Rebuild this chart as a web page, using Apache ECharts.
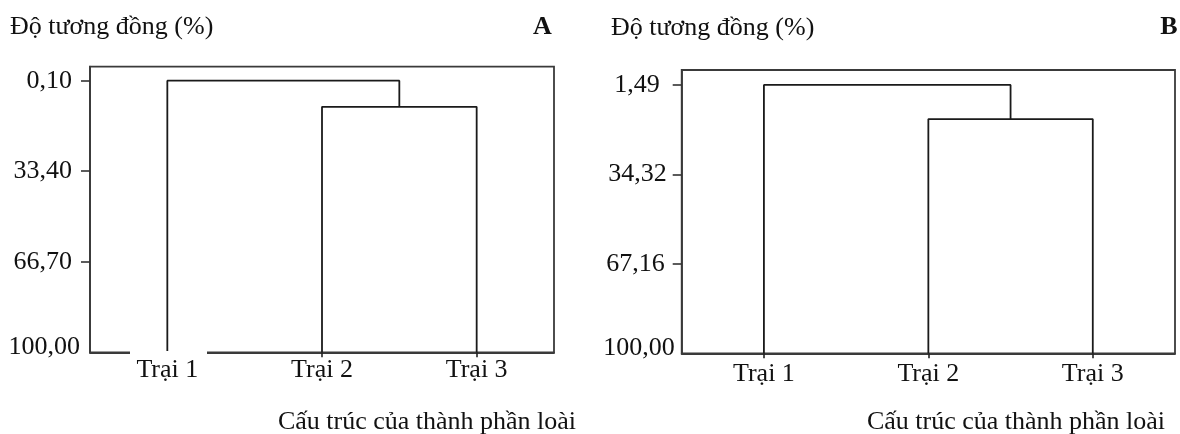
<!DOCTYPE html>
<html><head><meta charset="utf-8">
<script src="https://cdn.jsdelivr.net/npm/echarts@6/dist/echarts.min.js"></script>
<style>html,body{margin:0;padding:0;background:#fff}#c{width:1180px;height:434px}</style>
</head><body><div id="c"></div>
<script>
// ---- data ----
const categories = ['Trại 1', 'Trại 2', 'Trại 3'];
const leafPositions = [1, 2, 3];
const yTicksA = [0.10, 33.40, 66.70, 100.00];
const yTicksB = [1.49, 34.32, 67.16, 100.00];
// merge heights (similarity %): first Trại 2 + Trại 3, then Trại 1 + (Trại 2, Trại 3)
const mergesA = [9.7, 0.10];
const mergesB = [14.0, 1.49];
const leafHeight = 100;
const yTitle = 'Độ tương đồng (%)';
const xTitle = 'Cấu trúc của thành phần loài';
const panelLetters = ['A', 'B'];
const yRangeA = [-5.05, 100];
const yRangeB = [-4.0, 100];

// ---- helpers ----
const FONT = '"Liberation Serif", "Times New Roman", serif';
const FS = 26;
function fmt(v) { return v.toFixed(2).replace('.', ','); }
function dendroLines(merges) {
  const h23 = merges[0], h1 = merges[1];
  const mid = (leafPositions[1] + leafPositions[2]) / 2;
  return [
    [[leafPositions[1], leafHeight], [leafPositions[1], h23], [leafPositions[2], h23], [leafPositions[2], leafHeight]],
    [[leafPositions[0], leafHeight], [leafPositions[0], h1], [mid, h1], [mid, h23]]
  ];
}
function yAxisFor(idx, ticks, range, padRight, shiftUp) {
  const rich = {};
  ticks.forEach((t, i) => {
    rich['k' + i] = { fontFamily: FONT, fontSize: FS, color: '#111',
      padding: [0, padRight[i], shiftUp[i] * 2, 0] };
  });
  return {
    type: 'value', gridIndex: idx, inverse: true, min: range[0], max: range[1],
    splitLine: { show: false },
    axisLine: { show: true, onZero: false, lineStyle: { color: '#3a3a3a', width: 1.8 } },
    axisTick: { show: true, inside: false, length: 9, customValues: ticks.slice(0, 3),
      lineStyle: { color: '#333', width: 1.6 } },
    axisLabel: { show: true, margin: 2, customValues: ticks,
      formatter: (v) => {
        let best = 0;
        ticks.forEach((t, i) => { if (Math.abs(t - v) < Math.abs(ticks[best] - v)) best = i; });
        return '{k' + best + '|' + fmt(ticks[best]) + '}';
      }, rich: rich }
  };
}
function xAxisFor(idx, margin) {
  return {
    type: 'value', gridIndex: idx, min: 0.5, max: 3.5, position: 'bottom',
    splitLine: { show: false },
    axisLine: { show: true, onZero: false, lineStyle: { color: '#3a3a3a', width: 1.8 } },
    axisTick: { show: true, length: 5, customValues: leafPositions, lineStyle: { color: '#222', width: 1.6 } },
    axisLabel: { show: true, margin: margin, customValues: leafPositions,
      fontFamily: FONT, fontSize: FS, color: '#111',
      formatter: (v) => categories[Math.round(v) - 1] }
  };
}

const series = [];
[[mergesA, 0], [mergesB, 1]].forEach(([m, gi]) => {
  dendroLines(m).forEach((pts) => {
    series.push({ type: 'line', xAxisIndex: gi, yAxisIndex: gi, data: pts,
      symbol: 'none', silent: true, animation: false, z: 3,
      lineStyle: { color: '#1a1a1a', width: 1.8 } });
  });
});

const chart = echarts.init(document.getElementById('c'), null, { renderer: 'canvas' });
chart.setOption({
  animation: false,
  backgroundColor: '#fff',
  grid: [
    { left: 90, top: 66.7, width: 464, height: 285.6, show: true, borderColor: '#3a3a3a', borderWidth: 1.8 },
    { left: 681.7, top: 70, width: 493.3, height: 283.3, show: true, borderColor: '#3a3a3a', borderWidth: 1.8 }
  ],
  xAxis: [xAxisFor(0, 5), xAxisFor(1, 8)],
  yAxis: [
    yAxisFor(0, yTicksA, yRangeA, [16, 16, 16, 8], [0, 0, 0, 5]),
    yAxisFor(1, yTicksB, yRangeB, [20, 13, 15, 5], [0, 0, 0, 5])
  ],
  graphic: [
    { type: 'text', x: 10, y: 27, style: { text: yTitle, font: FS + 'px ' + FONT, fill: '#111', verticalAlign: 'middle' } },
    { type: 'text', x: 611, y: 28, style: { text: yTitle, font: FS + 'px ' + FONT, fill: '#111', verticalAlign: 'middle' } },
    { type: 'text', x: 542.5, y: 27, style: { text: panelLetters[0], font: 'bold ' + FS + 'px ' + FONT, fill: '#111', align: 'center', verticalAlign: 'middle' } },
    { type: 'text', x: 1169, y: 27, style: { text: panelLetters[1], font: 'bold ' + FS + 'px ' + FONT, fill: '#111', align: 'center', verticalAlign: 'middle' } },
    { type: 'text', x: 427, y: 422, style: { text: xTitle, font: FS + 'px ' + FONT, fill: '#111', align: 'center', verticalAlign: 'middle' } },
    { type: 'text', x: 1016, y: 422, style: { text: xTitle, font: FS + 'px ' + FONT, fill: '#111', align: 'center', verticalAlign: 'middle' } },
    { type: 'rect', z: 10, shape: { x: 130, y: 351, width: 77, height: 7 }, style: { fill: '#fff' } }
  ],
  series: series
});
</script></body></html>
